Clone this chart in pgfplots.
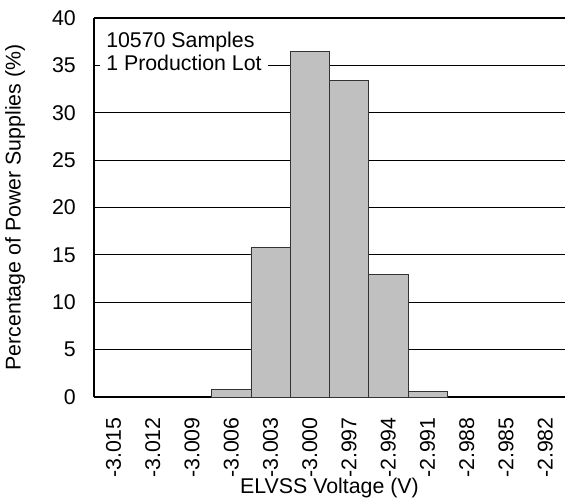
\documentclass[border=0pt]{standalone}
\usepackage{fontspec}
\setmainfont{Liberation Sans}
\usepackage{pgfplots}
\pgfplotsset{compat=1.18}
\definecolor{barfill}{HTML}{C0C0C0}
\definecolor{baredge}{HTML}{333333}
\begin{document}
\fontsize{16}{17.25}\selectfont
\begin{tikzpicture}
\useasboundingbox (-70.5pt,-78pt) rectangle (353.25pt,297.75pt);
\begin{axis}[
  at={(0,0)}, anchor=south west,
  scale only axis,
  width=353.25pt, height=284.25pt,
  xmin=-0.5, xmax=11.5,
  ymin=0, ymax=40,
  ytick={0,5,...,40},
  xtick={0,...,11},
  xticklabels={-3.015,-3.012,-3.009,-3.006,-3.003,-3.000,-2.997,-2.994,-2.991,-2.988,-2.985,-2.982},
  axis x line*=bottom, axis y line*=left,
  axis line style={line width=1.5pt, black, -},
  major tick length=0pt,
  tick style={draw=none},
  ymajorgrids,
  grid style={black, line width=0.6pt},
  /pgf/number format/assume math mode=true,
  ticklabel style={font=\fontsize{16}{17.25}\selectfont},
  yticklabel style={inner sep=0pt},
  yticklabel shift=13.5pt,
  xticklabel style={rotate=90, anchor=east, inner sep=0pt},
  xticklabel shift=15pt,
  xlabel={ELVSS Voltage (V)},
  ylabel={Percentage of Power Supplies (\%)},
  label style={font=\fontsize{16}{17.25}\selectfont},
  xlabel style={at={(axis description cs:0.5,-0.240)}, anchor=center},
  ylabel style={at={(axis description cs:-0.1677,0.5)}, anchor=center},
  ybar, bar width=1, bar shift=0pt,
  clip=false,
]
\addplot[fill=barfill, draw=baredge, line width=0.6pt] coordinates {
  (3,0.84) (4,15.8) (5,36.5) (6,33.4) (7,12.95) (8,0.6)
};
\draw[line width=1.5pt, black] (rel axis cs:0,1) -- (rel axis cs:1,1);
\node[anchor=north west, fill=white, inner sep=4.5pt, align=left,
      font=\fontsize{16}{17.25}\selectfont]
  at (rel axis cs:0,1) [xshift=4.5pt, yshift=-6pt] {10570 Samples\\1 Production Lot};
\end{axis}
\end{tikzpicture}
\end{document}
